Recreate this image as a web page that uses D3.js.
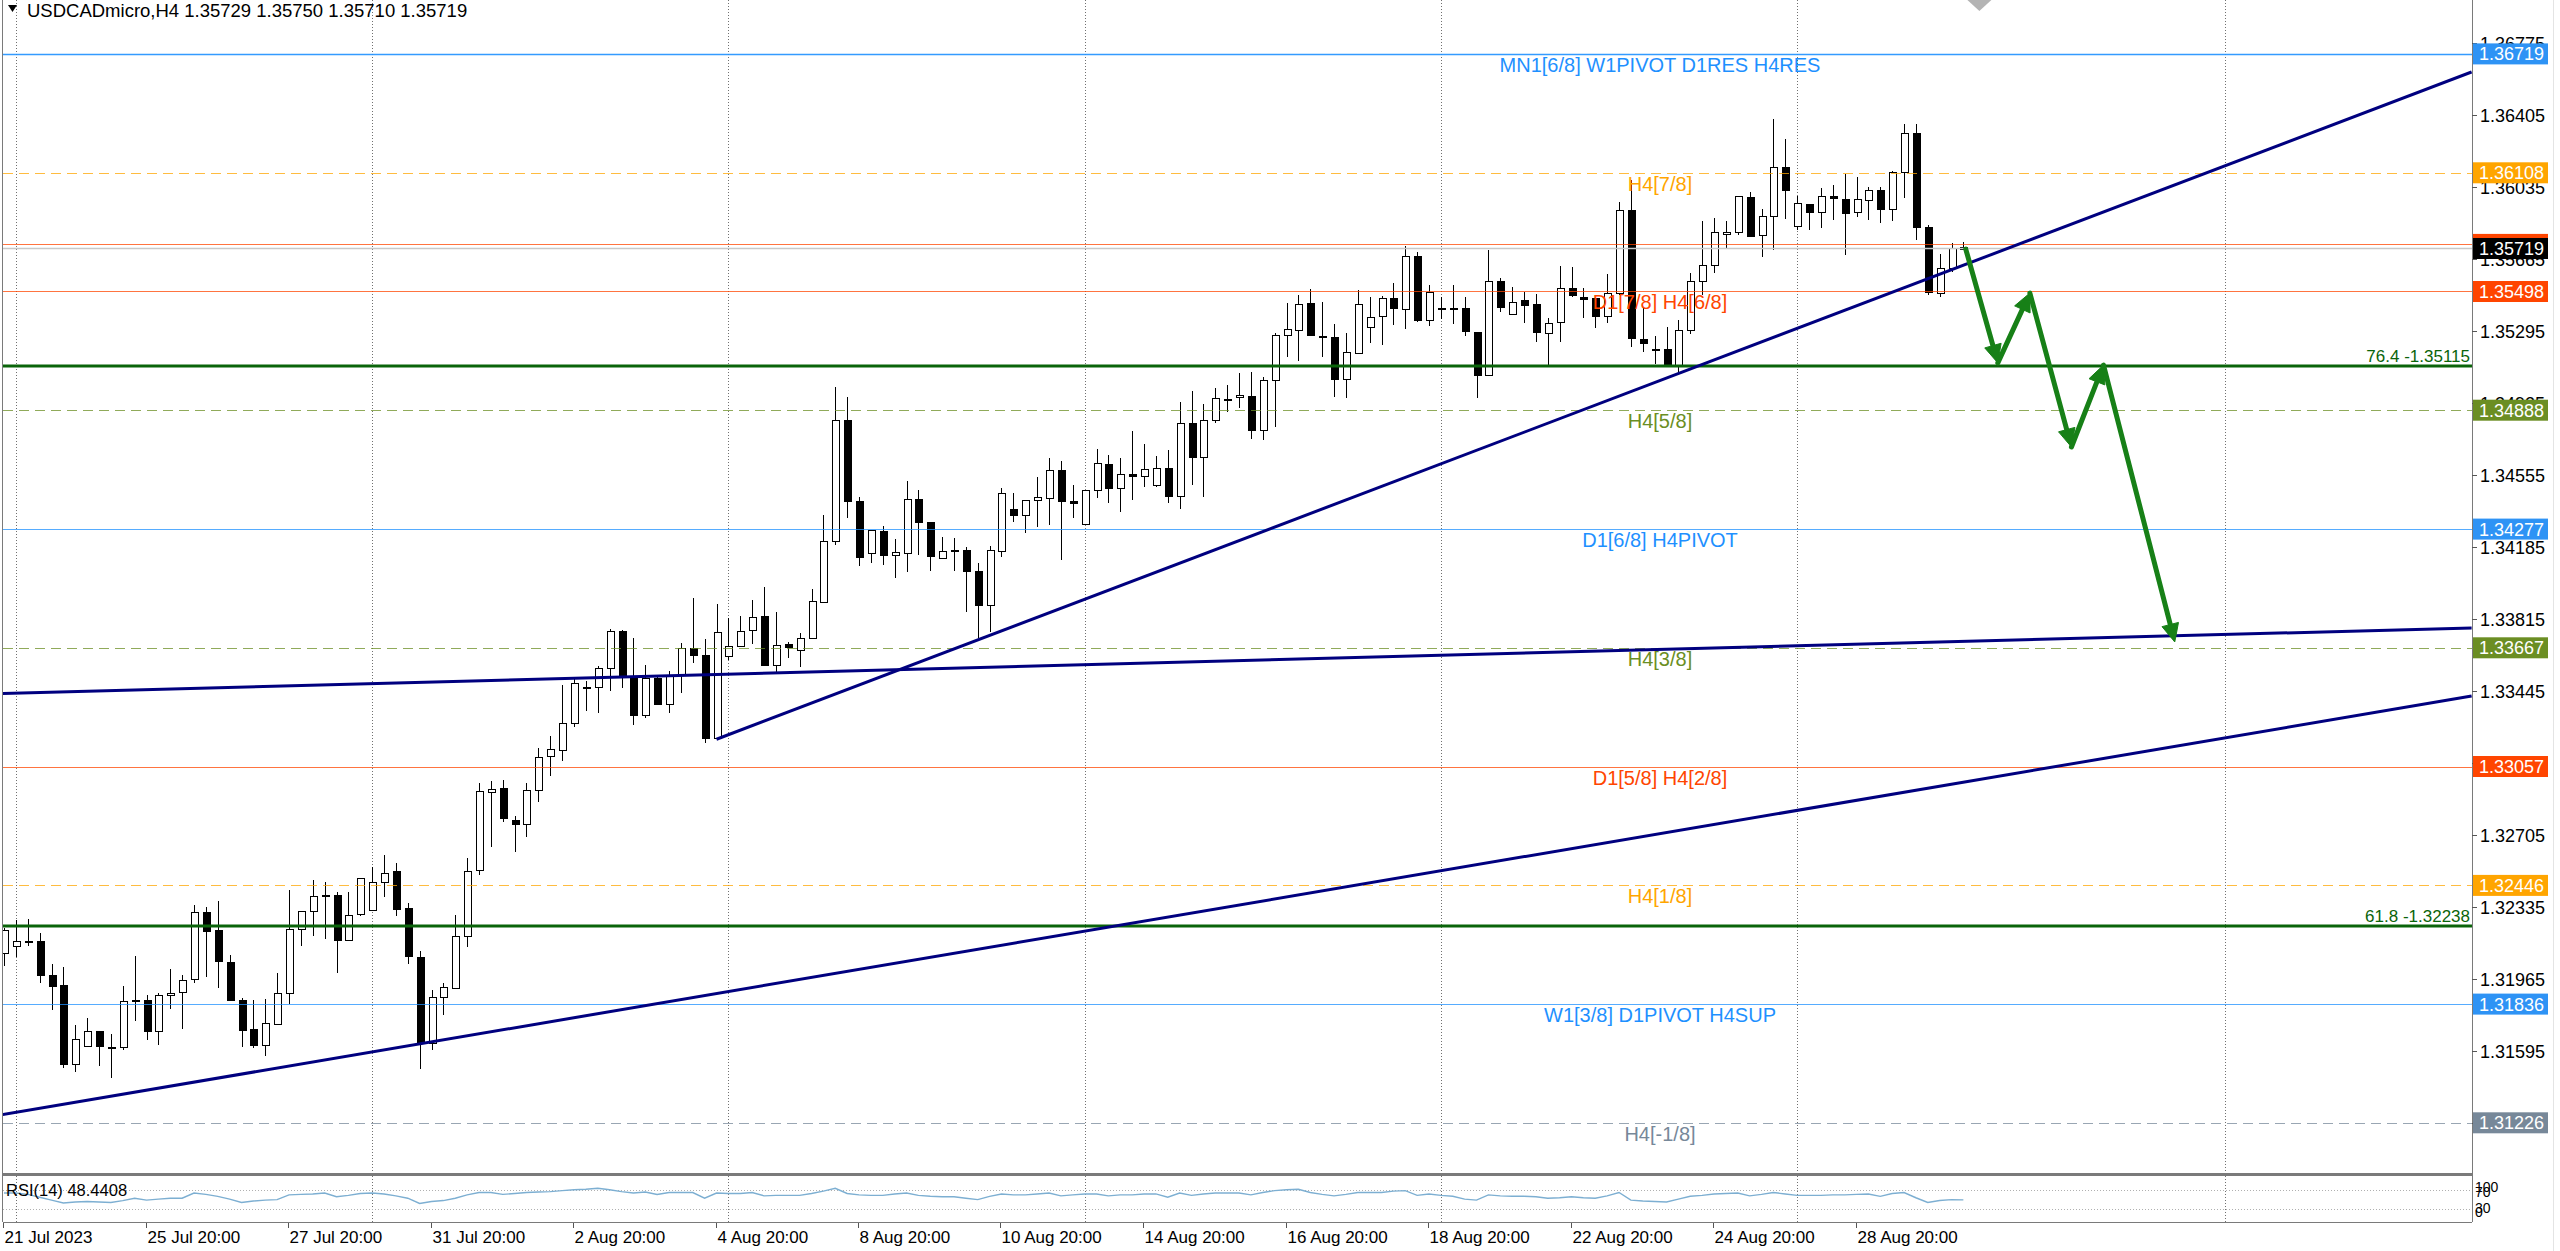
<!DOCTYPE html>
<html><head><meta charset="utf-8">
<script src="https://cdn.jsdelivr.net/npm/d3@7"></script>
<style>html,body{margin:0;padding:0;background:#fff;overflow:hidden}text{font-family:"Liberation Sans",Arial,sans-serif}</style>
</head><body>
<svg id="c" width="2560" height="1251"></svg>
<script>
// ---------------- DATA ----------------
const symbolTitle = "USDCADmicro,H4 1.35729 1.35750 1.35710 1.35719";
const opens = [1.32100,1.32135,1.32162,1.32162,1.31987,1.31932,1.31532,1.31621,1.31699,1.31616,
1.31614,1.31857,1.31859,1.31696,1.31883,1.31896,1.31963,1.32308,1.32215,1.32051,
1.31855,1.31706,1.31624,1.31734,1.31895,1.32220,1.32314,1.32397,1.32397,1.32165,
1.32297,1.32323,1.32465,1.32518,1.32328,1.32080,1.31638,1.31874,1.31922,1.32188,
1.32522,1.32929,1.32948,1.32782,1.32762,1.32938,1.33109,1.33142,1.33279,1.33467,
1.33467,1.33565,1.33753,1.33522,1.33322,1.33510,1.33382,1.33527,1.33664,1.33630,
1.33202,1.33627,1.33678,1.33758,1.33832,1.33582,1.33685,1.33659,1.33719,1.33907,
1.34216,1.34838,1.34421,1.34152,1.34269,1.34144,1.34156,1.34432,1.34312,1.34132,
1.34170,1.34170,1.34062,1.33887,1.34168,1.34380,1.34349,1.34427,1.34439,1.34581,
1.34421,1.34301,1.34481,1.34611,1.34486,1.34558,1.34550,1.34500,1.34589,1.34444,
1.34820,1.34646,1.34836,1.34947,1.34952,1.34963,1.34786,1.35043,1.35273,1.35300,
1.35441,1.35269,1.35266,1.35052,1.35184,1.35314,1.35368,1.35463,1.35412,1.35682,
1.35352,1.35413,1.35412,1.35412,1.35292,1.35069,1.35554,1.35381,1.35454,1.35432,
1.35288,1.35340,1.35514,1.35471,1.35463,1.35369,1.35489,1.35917,1.35254,1.35203,
1.35201,1.35115,1.35300,1.35552,1.35634,1.35792,1.35802,1.35985,1.35792,1.35888,
1.36140,1.35835,1.35948,1.35905,1.35989,1.35975,1.35905,1.35968,1.36020,1.35920,
1.36110,1.36311,1.35831,1.35494,1.35621,1.35729];
const highs = [1.32225,1.32268,1.32273,1.32203,1.32040,1.32028,1.31727,1.31763,1.31699,1.31682,
1.31931,1.32083,1.31883,1.31891,1.32015,1.31985,1.32345,1.32337,1.32366,1.32088,
1.31866,1.31855,1.31862,1.31994,1.32422,1.32314,1.32474,1.32465,1.32414,1.32414,
1.32482,1.32542,1.32602,1.32559,1.32357,1.32109,1.31908,1.31943,1.32294,1.32585,
1.32974,1.32983,1.32988,1.32803,1.32974,1.33150,1.33214,1.33476,1.33519,1.33496,
1.33573,1.33762,1.33758,1.33716,1.33579,1.33527,1.33549,1.33690,1.33925,1.33710,
1.33890,1.33818,1.33832,1.33913,1.33978,1.33853,1.33698,1.33745,1.33969,1.34349,
1.35005,1.34954,1.34444,1.34272,1.34293,1.34224,1.34526,1.34478,1.34313,1.34235,
1.34230,1.34183,1.34104,1.34190,1.34490,1.34464,1.34427,1.34546,1.34644,1.34627,
1.34504,1.34478,1.34687,1.34658,1.34641,1.34783,1.34713,1.34653,1.34683,1.34932,
1.34988,1.34920,1.35000,1.35018,1.35081,1.35083,1.35057,1.35286,1.35437,1.35480,
1.35509,1.35446,1.35331,1.35287,1.35506,1.35468,1.35475,1.35540,1.35734,1.35703,
1.35531,1.35468,1.35531,1.35471,1.35292,1.35711,1.35569,1.35523,1.35497,1.35485,
1.35360,1.35631,1.35622,1.35514,1.35466,1.35588,1.35960,1.36070,1.35412,1.35271,
1.35317,1.35352,1.35591,1.35862,1.35874,1.35862,1.35989,1.36011,1.35920,1.36383,
1.36280,1.35991,1.35948,1.36028,1.36045,1.36102,1.36085,1.36033,1.36037,1.36117,
1.36359,1.36359,1.35840,1.35691,1.35749,1.35750];
const lows = [1.32032,1.32080,1.32135,1.31943,1.31806,1.31506,1.31489,1.31618,1.31518,1.31454,
1.31600,1.31749,1.31651,1.31626,1.31809,1.31706,1.31946,1.31973,1.31917,1.31855,
1.31617,1.31609,1.31571,1.31729,1.31837,1.32135,1.32186,1.32172,1.31994,1.32165,
1.32289,1.32320,1.32388,1.32289,1.32040,1.31502,1.31600,1.31780,1.31917,1.32131,
1.32499,1.32645,1.32774,1.32619,1.32696,1.32873,1.33010,1.33087,1.33262,1.33344,
1.33330,1.33447,1.33459,1.33270,1.33305,1.33378,1.33330,1.33433,1.33587,1.33176,
1.33197,1.33604,1.33669,1.33686,1.33573,1.33544,1.33613,1.33567,1.33719,1.33895,
1.34195,1.34332,1.34089,1.34104,1.34092,1.34024,1.34058,1.34144,1.34062,1.34132,
1.34062,1.33853,1.33716,1.33750,1.34134,1.34315,1.34255,1.34286,1.34298,1.34118,
1.34332,1.34298,1.34435,1.34409,1.34367,1.34427,1.34492,1.34492,1.34409,1.34379,
1.34504,1.34444,1.34820,1.34880,1.34898,1.34740,1.34735,1.34800,1.35163,1.35143,
1.35267,1.35163,1.34954,1.34949,1.35180,1.35235,1.35223,1.35326,1.35304,1.35343,
1.35321,1.35355,1.35331,1.35271,1.34949,1.35069,1.35394,1.35381,1.35334,1.35237,
1.35117,1.35237,1.35471,1.35364,1.35309,1.35338,1.35480,1.35215,1.35189,1.35125,
1.35115,1.35086,1.35280,1.35480,1.35591,1.35720,1.35788,1.35780,1.35674,1.35711,
1.35869,1.35814,1.35814,1.35823,1.35865,1.35684,1.35883,1.35865,1.35848,1.35862,
1.35976,1.35763,1.35480,1.35472,1.35600,1.35710];
const closes = [1.32217,1.32162,1.32162,1.31985,1.31932,1.31528,1.31658,1.31696,1.31621,1.31615,
1.31850,1.31857,1.31699,1.31883,1.31895,1.31958,1.32308,1.32212,1.32054,1.31855,
1.31703,1.31624,1.31737,1.31895,1.32222,1.32314,1.32393,1.32397,1.32165,1.32296,
1.32482,1.32465,1.32511,1.32323,1.32080,1.31638,1.31874,1.31926,1.32188,1.32522,
1.32929,1.32943,1.32796,1.32762,1.32938,1.33108,1.33145,1.33279,1.33484,1.33467,
1.33565,1.33753,1.33515,1.33322,1.33510,1.33378,1.33524,1.33664,1.33627,1.33202,
1.33746,1.33678,1.33755,1.33827,1.33579,1.33683,1.33669,1.33719,1.33907,1.34218,
1.34838,1.34421,1.34132,1.34272,1.34144,1.34161,1.34432,1.34315,1.34135,1.34166,
1.34169,1.34062,1.33887,1.34168,1.34464,1.34349,1.34427,1.34440,1.34581,1.34421,
1.34409,1.34478,1.34618,1.34486,1.34558,1.34550,1.34584,1.34589,1.34444,1.34820,
1.34646,1.34836,1.34949,1.34947,1.34964,1.34786,1.35043,1.35274,1.35304,1.35435,
1.35274,1.35269,1.35052,1.35189,1.35434,1.35365,1.35463,1.35412,1.35682,1.35352,
1.35497,1.35413,1.35412,1.35295,1.35069,1.35554,1.35420,1.35444,1.35430,1.35288,
1.35338,1.35514,1.35477,1.35463,1.35369,1.35489,1.35917,1.35257,1.35232,1.35203,
1.35115,1.35300,1.35552,1.35634,1.35802,1.35802,1.35989,1.35785,1.35888,1.36140,
1.36020,1.35951,1.35905,1.35989,1.35977,1.35905,1.35972,1.36020,1.35922,1.36110,
1.36311,1.35829,1.35497,1.35621,1.35723,1.35719];
const rsiValues = [63,63,60,54,48,42,44,45,44,43,
47,52,48,50,52,52,63,60,56,50,
43,46,48,49,59,60,61,63,55,58,
62,63,61,57,52,41,45,47,52,59,
64,64,60,62,64,65,66,68,70,71,
73,70,66,63,65,60,64,64,64,52,
63,62,62,64,57,58,58,58,62,67,
73,62,59,58,58,61,63,58,56,55,
55,52,49,56,61,59,59,61,63,57,
59,61,61,57,59,59,61,61,54,63,
58,61,63,63,63,59,64,68,70,71,
64,60,57,60,64,64,64,67,68,58,
61,58,56,50,48,59,57,56,56,55,
52,53,55,53,52,57,64,48,46,45,
44,50,56,58,61,62,63,57,60,64,
61,58,58,58,59,59,60,61,56,62,
64,53,43,47,49,48.4408];
const rsiLabel = "RSI(14) 48.4408";
const rsiLevels = [70, 30];
const rsiScaleLabels = ["100","70","30","0"];

const priceTicks = [1.36775,1.36405,1.36035,1.35665,1.35295,1.34925,1.34555,1.34185,1.33815,1.33445,1.33075,1.32705,1.32335,1.31965,1.31595,1.31225];
const dateTickBars = [0,12,24,36,48,60,72,84,96,108,120,132,144,156];
const dateTickLabels = ["21 Jul 2023","25 Jul 20:00","27 Jul 20:00","31 Jul 20:00","2 Aug 20:00","4 Aug 20:00","8 Aug 20:00","10 Aug 20:00","14 Aug 20:00","16 Aug 20:00","18 Aug 20:00","22 Aug 20:00","24 Aug 20:00","28 Aug 20:00"];
const weekGridBars = [1,31,61,91,121,151,187];

const levelPrices = [1.36719,1.36108,1.35740,1.35498,1.34888,1.34277,1.33667,1.33057,1.32446,1.31836,1.31226];
const levelNames = ["MN1[6/8] W1PIVOT D1RES H4RES","H4[7/8]","","D1[7/8] H4[6/8]","H4[5/8]","D1[6/8] H4PIVOT","H4[3/8]","D1[5/8] H4[2/8]","H4[1/8]","W1[3/8] D1PIVOT H4SUP","H4[-1/8]"];
const levelKinds = ["blueStrong","orange","red","red","olive","blue","olive","red","orange","blue","gray"];
const fibPrices = [1.35115, 1.32238];
const fibLabels = ["76.4 -1.35115", "61.8 -1.32238"];
const bidPrice = 1.35719;

const trendLines = [
  [[60, 1.33197], [207.8, 1.36626]],
  [[-0.34, 1.33432], [207.8, 1.33769]],
  [[-0.34, 1.31266], [207.8, 1.33419]]
];
const arrowPath = [[165.2,1.35716],[167.9,1.35131],[170.6,1.35490],[174.1,1.34699],[176.8,1.35120],[182.8,1.33697]];

// ---------------- LAYOUT / STYLE ----------------
const W = 2560, H = 1251;
const left = 3, right = 2472, mainTop = 0, mainBottom = 1173;
const rsiTop = 1175, rsiBottom = 1222;
const svg = d3.select("#c");
const kindStyle = {
  blueStrong:{c:"#1E90FF", w:1.6, d:null, box:"#2E93F5"},
  blue:{c:"#1E90FF", w:1, d:null, box:"#2E93F5"},
  orange:{c:"#FFA500", w:1, d:"10,6", box:"#FFA500"},
  red:{c:"#FF4500", w:1, d:null, box:"#FF4500"},
  olive:{c:"#6B8E23", w:1, d:"10,6", box:"#6B8E23"},
  gray:{c:"#778899", w:1, d:"10,6", box:"#778899"}
};

const n = opens.length;
const x = d3.scaleLinear().domain([0, n-1]).range([4, 4 + (n-1)*11.875]);
const y = d3.scaleLinear().domain([1.31225, 1.36775]).range([1123, 43]);
const yr = d3.scaleLinear().domain([0, 100]).range([rsiBottom + 0.8, rsiTop + 0.5]);

svg.append("rect").attr("width", W).attr("height", H).attr("fill", "#fff");
svg.append("defs").append("clipPath").attr("id","mainClip")
  .append("rect").attr("x", left).attr("y", mainTop).attr("width", right-left).attr("height", mainBottom-mainTop);
svg.select("defs").append("clipPath").attr("id","rsiClip")
  .append("rect").attr("x", left).attr("y", rsiTop).attr("width", right-left).attr("height", rsiBottom-rsiTop);

// week grid
svg.append("g").selectAll("line").data(weekGridBars).join("line")
  .attr("x1", d => Math.round(x(d))+0.5).attr("x2", d => Math.round(x(d))+0.5)
  .attr("y1", 0).attr("y2", rsiBottom)
  .attr("stroke", "#707070").attr("stroke-width", 1).attr("stroke-dasharray", "1,2");

const main = svg.append("g").attr("clip-path", "url(#mainClip)");

// candles
const idx = d3.range(n);
const cg = main.append("g").attr("shape-rendering", "crispEdges");
cg.selectAll("line.w").data(idx).join("line").attr("class","w")
  .attr("x1", i => Math.round(x(i))+0.5).attr("x2", i => Math.round(x(i))+0.5)
  .attr("y1", i => y(highs[i])).attr("y2", i => y(lows[i]))
  .attr("stroke", "#000").attr("stroke-width", 1);
cg.selectAll("rect.b").data(idx).join("rect").attr("class","b")
  .attr("x", i => Math.round(x(i)) - 3 + 0.5)
  .attr("width", 7)
  .attr("y", i => Math.round(y(Math.max(opens[i], closes[i]))) + 0.5)
  .attr("height", i => Math.max(1, Math.round(Math.abs(y(opens[i]) - y(closes[i])))))
  .attr("fill", i => closes[i] >= opens[i] ? "#fff" : "#000")
  .attr("stroke", "#000").attr("stroke-width", 1);

// level lines
const lg = main.append("g");
levelPrices.forEach((p, k) => {
  const s = kindStyle[levelKinds[k]];
  lg.append("line").attr("x1", left).attr("x2", right)
    .attr("y1", Math.round(y(p))+0.5).attr("y2", Math.round(y(p))+0.5)
    .attr("stroke", s.c).attr("stroke-width", s.w).attr("stroke-opacity", s.w<1.5 ? 0.75 : 0.9)
    .attr("stroke-dasharray", s.d);
});
// bid line
lg.append("line").attr("x1", left).attr("x2", right)
  .attr("y1", Math.round(y(bidPrice))+0.5).attr("y2", Math.round(y(bidPrice))+0.5)
  .attr("stroke", "#C8C8C8").attr("stroke-width", 1.5);
// fib lines
fibPrices.forEach((p, k) => {
  lg.append("line").attr("x1", left).attr("x2", right)
    .attr("y1", y(p)).attr("y2", y(p))
    .attr("stroke", "#0A640A").attr("stroke-width", 3);
  lg.append("text").attr("x", right - 2).attr("y", y(p) - 4)
    .attr("text-anchor", "end").attr("font-size", 17).attr("fill", "#0A640A").text(fibLabels[k]);
});

// trend lines
const tg = main.append("g");
trendLines.forEach(t => {
  tg.append("line").attr("x1", x(t[0][0])).attr("y1", y(t[0][1]))
    .attr("x2", x(t[1][0])).attr("y2", y(t[1][1]))
    .attr("stroke", "#00007F").attr("stroke-width", 3);
});

// level labels
levelPrices.forEach((p, k) => {
  if (!levelNames[k]) return;
  const s = kindStyle[levelKinds[k]];
  lg.append("text").attr("x", 1660).attr("y", y(p) + 18)
    .attr("text-anchor", "middle").attr("font-size", 20).attr("fill", s.c).text(levelNames[k]);
});

// green arrows
const ag = main.append("g");
const ac = "#178017";
for (let k = 1; k < arrowPath.length; k++) {
  const x1 = x(arrowPath[k-1][0]), y1 = y(arrowPath[k-1][1]);
  const x2 = x(arrowPath[k][0]), y2 = y(arrowPath[k][1]);
  const dx = x2-x1, dy = y2-y1, L = Math.hypot(dx, dy), ux = dx/L, uy = dy/L;
  const hl = 18, hw = 8.5;
  const bx = x2 - ux*hl, by = y2 - uy*hl;
  ag.append("line").attr("x1", x1).attr("y1", y1).attr("x2", bx + ux*2).attr("y2", by + uy*2)
    .attr("stroke", ac).attr("stroke-width", 5).attr("stroke-linecap", "round");
  ag.append("path").attr("d", `M${x2},${y2}L${bx - uy*hw},${by + ux*hw}L${bx + uy*hw},${by - ux*hw}Z`)
    .attr("fill", ac).attr("stroke", ac).attr("stroke-width", 1).attr("stroke-linejoin", "round");
}

// chart-shift marker at top
svg.append("path").attr("d", `M${x(n-1)+4},0L${x(n-1)+28},0L${x(n-1)+16},11Z`).attr("fill", "#b4b4b4");

// title
svg.append("path").attr("d", "M8,5L17,5L12.5,12Z").attr("fill", "#000");
svg.append("text").attr("x", 27).attr("y", 17).attr("font-size", 18.5).attr("fill", "#000").text(symbolTitle);

// frames
const fr = svg.append("g").attr("shape-rendering", "crispEdges").attr("fill", "none").attr("stroke", "#7a7a7a");
fr.append("line").attr("x1", left-0.5).attr("x2", left-0.5).attr("y1", 0).attr("y2", rsiBottom);
fr.append("line").attr("x1", right+0.5).attr("x2", right+0.5).attr("y1", 0).attr("y2", rsiBottom);
fr.append("line").attr("x1", left).attr("x2", right).attr("y1", mainBottom+0.5).attr("y2", mainBottom+0.5).attr("stroke-width", 2);
fr.append("line").attr("x1", left).attr("x2", right).attr("y1", rsiTop+0.5).attr("y2", rsiTop+0.5);
fr.append("line").attr("x1", left).attr("x2", right).attr("y1", rsiBottom+0.5).attr("y2", rsiBottom+0.5);
svg.append("line").attr("x1", 2553.5).attr("x2", 2553.5).attr("y1", 0).attr("y2", H).attr("stroke", "#e4e4e4");

// price axis
const pa = svg.append("g");
priceTicks.forEach(p => {
  pa.append("line").attr("x1", right).attr("x2", right+5).attr("y1", Math.round(y(p))+0.5).attr("y2", Math.round(y(p))+0.5).attr("stroke", "#555");
  pa.append("text").attr("x", 2480).attr("y", y(p) + 6.5).attr("font-size", 18).attr("fill", "#000").text(p.toFixed(5));
});
function priceBox(p, fill, withText) {
  const yc = y(p);
  pa.append("rect").attr("x", 2473).attr("y", yc - 10.5).attr("width", 75).attr("height", 21).attr("fill", fill);
  if (withText) pa.append("text").attr("x", 2479).attr("y", yc + 6.5).attr("font-size", 18).attr("fill", "#fff").text(p.toFixed(5));
}
levelPrices.forEach((p, k) => priceBox(p, kindStyle[levelKinds[k]].box, levelNames[k] !== ""));
priceBox(bidPrice, "#000", true);

// RSI panel
const rg = svg.append("g");
rsiLevels.forEach(v => {
  rg.append("line").attr("x1", left).attr("x2", right).attr("y1", Math.round(yr(v))+0.5).attr("y2", Math.round(yr(v))+0.5)
    .attr("stroke", "#b0b0b0").attr("stroke-dasharray", "1,2");
});
rg.append("path").attr("clip-path", "url(#rsiClip)")
  .attr("d", d3.line().x((d, i) => x(i)).y(d => yr(d))(rsiValues))
  .attr("fill", "none").attr("stroke", "#7DAFD2").attr("stroke-width", 1.4);
rg.append("text").attr("x", 6).attr("y", 1196).attr("font-size", 16.5).attr("fill", "#000").text(rsiLabel);
const rsiLabelY = [1192, 1197, 1213, 1217];
rsiScaleLabels.forEach((s, k) => {
  rg.append("text").attr("x", 2475).attr("y", rsiLabelY[k]).attr("font-size", 14).attr("fill", "#000").text(s);
});

// time axis
const ta = svg.append("g");
dateTickBars.forEach((b, k) => {
  const xx = Math.round(x(b)) - 0.5;
  ta.append("line").attr("x1", xx).attr("x2", xx).attr("y1", rsiBottom + 1).attr("y2", rsiBottom + 6).attr("stroke", "#555");
  ta.append("text").attr("x", xx + 1).attr("y", 1243)
    .attr("font-size", 17).attr("fill", "#000").text(dateTickLabels[k]);
});
</script>
</body></html>
